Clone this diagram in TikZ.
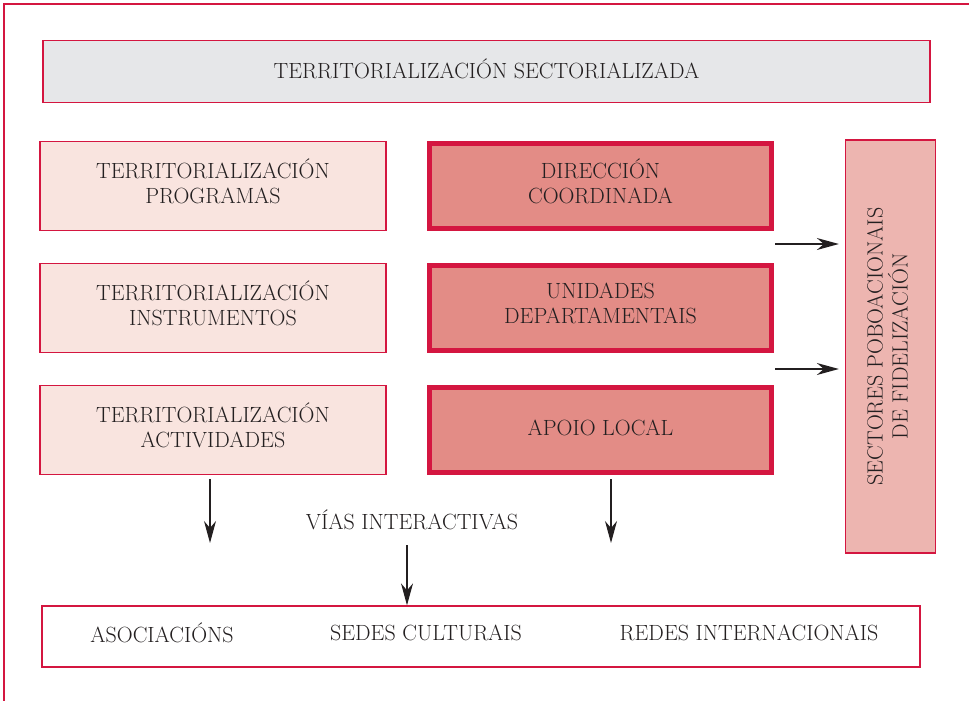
\documentclass[tikz,border=0pt]{standalone}
\usetikzlibrary{arrows.meta}
\definecolor{framered}{RGB}{212,22,64}
\definecolor{topgray}{RGB}{230,231,233}
\definecolor{lightpink}{RGB}{249,228,223}
\definecolor{midred}{RGB}{227,140,134}
\definecolor{tallpink}{RGB}{237,181,176}
\definecolor{ink}{RGB}{35,31,32}
\tikzset{
  txt/.style={text=ink, font=\fontsize{22}{25}\selectfont, align=center, inner sep=0pt},
  twoline/.style={txt, yshift=4.5pt},
  oneline/.style={txt, yshift=2.5pt},
  thinbox/.style={draw=framered, line width=1.3pt, inner sep=0pt},
  topbox/.style={thinbox, fill=topgray, minimum width=887pt, minimum height=62pt},
  leftbox/.style={thinbox, fill=lightpink, minimum width=346pt, minimum height=89pt},
  midbox/.style={draw=framered, line width=5pt, fill=midred, inner sep=0pt, minimum width=342pt, minimum height=85pt},
  tallbox/.style={thinbox, fill=tallpink, minimum width=90pt, minimum height=413pt},
  bottombox/.style={thinbox, fill=white, minimum width=878pt, minimum height=61pt},
  arr/.style={draw=ink, line width=1.3pt, -{Stealth[length=22pt,width=12pt,inset=7pt]}}
}
\begin{document}
\begin{tikzpicture}[x=1pt,y=-1pt]
\useasboundingbox (0,0) rectangle (969,701);
% outer frame (cut off at right and bottom)
\draw[framered, line width=1.3pt] (4,701) -- (4,4) -- (969,4);
% top box
\node[topbox] (top) at (486.5,71.5) {};
\node[oneline] (topt) at (top.center) {TERRITORIALIZACIÓN SECTORIALIZADA};
% left column
\node[leftbox] (l1) at (213,186) {};
\node[leftbox] (l2) at (213,308) {};
\node[leftbox] (l3) at (213,430) {};
\node[twoline] (l1t) at (l1.center) {TERRITORIALIZACIÓN\\PROGRAMAS};
\node[twoline] (l2t) at (l2.center) {TERRITORIALIZACIÓN\\INSTRUMENTOS};
\node[twoline] (l3t) at (l3.center) {TERRITORIALIZACIÓN\\ACTIVIDADES};
% middle column
\node[midbox] (m1) at (600.5,186) {};
\node[midbox] (m2) at (600.5,308) {};
\node[midbox] (m3) at (600.5,430) {};
\node[twoline] (m1t) at (m1.center) {DIRECCIÓN\\COORDINADA};
\node[twoline] (m2t) at (m2.center) {UNIDADES\\DEPARTAMENTAIS};
\node[oneline] (m3t) at (m3.center) {APOIO LOCAL};
% tall box
\node[tallbox] (sect) at (890.5,346.5) {};
\node[txt, rotate=90] (secttxt) at ([xshift=-3pt,yshift=0pt]sect.center) {SECTORES POBOACIONAIS\\DE FIDELIZACIÓN};
% right arrows
\coordinate (r1) at (775,244);
\coordinate (r2) at (775,369);
\draw[arr, shorten >=6pt] (r1) -- (r1 -| sect.west);
\draw[arr, shorten >=6pt] (r2) -- (r2 -| sect.west);
% vias interactivas
\node[txt] (vias) at (412,520) {VÍAS INTERACTIVAS};
% bottom box
\node[bottombox] (bot) at (481,636.5) {};
\node[txt] (asoc) at (162,633) {ASOCIACIÓNS};
\node[txt] (sedes) at (426,633) {SEDES CULTURAIS};
\node[txt] (redes) at (749,633) {REDES INTERNACIONAIS};
% down arrows
\coordinate (d1) at (210,479);
\coordinate (d1e) at (210,543);
\coordinate (d2) at (611,479);
\coordinate (d2e) at (611,543);
\coordinate (d3) at (407,545);
\draw[arr] (d1) -- (d1e);
\draw[arr] (d2) -- (d2e);
\draw[arr] (d3) -- (d3 |- bot.north);
\end{tikzpicture}
\end{document}
